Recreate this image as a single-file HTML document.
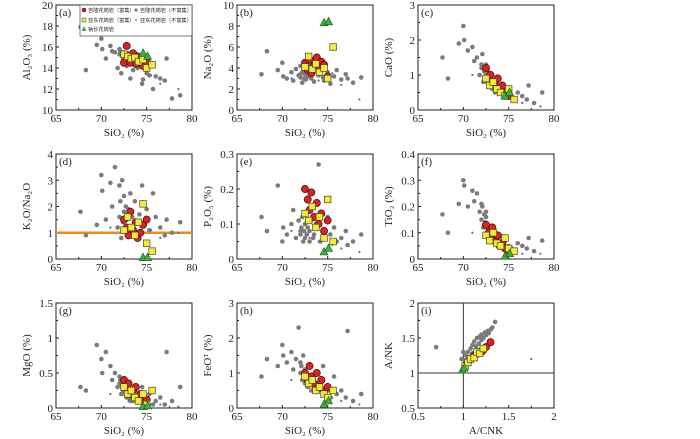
<!DOCTYPE html>
<html><head><meta charset="utf-8">
<style>
html,body{margin:0;padding:0;background:#fff;}
svg{display:block;font-family:"Liberation Serif","Noto Serif CJK SC",serif;}
</style></head>
<body>
<svg id="chart" width="700" height="439" viewBox="0 0 700 439" xmlns="http://www.w3.org/2000/svg"></svg>
<script>
// ---- data ----
const greySi=[67.7,68.3,69.5,70,70.1,70.5,71,71.2,71.5,71.8,72,72,72.1,72.2,72.3,72.4,72.5,72.5,72.6,72.7,72.8,73,73,73.2,73.4,73.5,73.7,74,74.2,74.5,74.6,75,75.3,75.7,76,76.5,77,77.2,77.8,78.7];
const redSi=[72.5,72.8,73,73.2,73.5,73.8,74,74.3,74.6,75];
const yelSi=[72.5,72.9,73.3,73.7,74.1,74.6,75,75.6];
const grnSi=[74.6,75.1];
const bluSi=[71,73,74,75.5,76.5,78.5];

const alGrey=[17.9,13.8,16.2,16.8,15.8,14.9,16.1,15.6,15.5,14,15.8,15.3,15.6,13.5,15.2,14.8,15.5,15.0,14.6,15.3,14.2,14.9,14.5,13,14.8,13.8,14.3,14.0,14.6,12.5,12.9,13.5,13.3,12,13.2,13,12.8,14.9,11.1,11.4];
const naGrey=[3.4,5.6,3.8,4.5,3.2,3.0,3.6,2.8,3.9,3.3,4.2,3.1,3.5,2.6,3.8,3.0,4.1,3.4,2.9,3.7,3.2,3.6,4.4,3.0,3.5,2.7,3.9,3.3,4.0,3.1,2.8,3.6,2.5,3.2,3.8,2.9,3.4,3.0,2.6,3.1];
const caGrey=[1.5,0.9,1.9,2.4,2.0,1.7,1.8,1.4,1.5,1.0,1.3,1.2,1.6,0.8,1.1,0.9,1.3,1.0,0.8,1.1,0.7,0.9,0.8,0.6,0.7,0.5,0.8,0.6,0.7,0.4,0.5,0.6,0.4,0.3,0.5,0.4,0.3,0.7,0.2,0.5];
const knGrey=[1.8,0.9,1.3,3.2,2.6,1.5,2.9,2.0,3.5,1.2,2.8,1.6,2.2,0.8,3.0,1.4,2.4,1.8,1.1,2.0,1.5,1.9,1.2,2.5,1.6,1.0,2.2,1.4,1.7,2.8,1.3,1.9,1.1,2.5,1.6,1.2,0.9,1.5,1.0,1.4];
const pGrey=[0.12,0.08,0.21,0.05,0.09,0.07,0.10,0.14,0.06,0.11,0.08,0.07,0.09,0.12,0.05,0.08,0.06,0.10,0.13,0.07,0.09,0.05,0.08,0.11,0.06,0.07,0.10,0.27,0.05,0.08,0.06,0.12,0.07,0.09,0.05,0.06,0.08,0.04,0.05,0.07];
const tiGrey=[0.17,0.10,0.21,0.30,0.28,0.20,0.26,0.22,0.25,0.18,0.21,0.15,0.20,0.12,0.17,0.14,0.18,0.16,0.12,0.13,0.10,0.11,0.09,0.08,0.10,0.06,0.08,0.07,0.06,0.05,0.07,0.05,0.04,0.03,0.06,0.05,0.04,0.08,0.03,0.07];
const mgGrey=[0.3,0.25,0.9,0.7,0.5,0.8,0.6,0.4,0.5,0.3,0.45,0.35,0.4,0.2,0.3,0.25,0.35,0.3,0.2,0.25,0.15,0.2,0.15,0.1,0.15,0.1,0.12,0.08,0.1,0.3,0.05,0.1,0.2,0.05,0.1,0.15,0.05,0.8,0.1,0.3];
const feGrey=[0.9,1.4,1.2,1.8,1.5,1.3,1.6,1.1,1.4,2.3,1.3,1.0,1.2,0.8,1.5,0.9,1.1,0.7,1.0,0.8,0.6,0.9,0.7,0.5,0.8,0.6,0.7,0.5,0.6,1.2,0.4,0.5,0.3,0.9,0.4,0.5,0.3,2.2,0.2,0.4];

const alRed=[14.5,16.1,15.2,14.5,15.4,14.4,15.1,14.8,14.2,14.6];
const naRed=[4.5,3.8,4.8,3.5,4.2,5.0,3.9,4.6,4.3,3.2];
const caRed=[1.2,0.9,1.0,0.8,0.7,0.9,0.6,0.7,0.5,0.4];
const knRed=[1.5,1.2,0.9,1.8,1.1,1.4,0.8,1.0,1.3,1.5];
const pRed=[0.20,0.17,0.14,0.19,0.12,0.16,0.10,0.13,0.08,0.11];
const tiRed=[0.13,0.10,0.08,0.12,0.07,0.09,0.05,0.06,0.04,0.03];
const mgRed=[0.4,0.3,0.35,0.2,0.25,0.3,0.15,0.2,0.1,0.12];
const feRed=[1.0,0.8,1.2,0.9,0.7,1.0,0.6,0.8,0.5,0.6];

const alYel=[15.3,15.1,14.9,15.0,14.6,14.8,14.0,14.3];
const naYel=[4.1,5.1,3.9,4.4,3.6,4.0,3.0,6.0];
const caYel=[0.9,0.7,0.8,0.6,0.5,0.4,0.6,0.3];
const knYel=[1.1,1.6,1.2,0.9,1.4,2.1,0.6,0.3];
const pYel=[0.13,0.11,0.15,0.09,0.12,0.06,0.17,0.05];
const tiYel=[0.09,0.07,0.10,0.06,0.05,0.08,0.04,0.03];
const mgYel=[0.3,0.2,0.25,0.15,0.1,0.2,0.05,0.25];
const feYel=[0.9,0.7,0.8,0.5,0.6,0.4,0.3,0.5];

const alGrn=[15.4,15.1], naGrn=[8.3,8.4], caGrn=[0.4,0.5], knGrn=[0.05,0.05], pGrn=[0.02,0.03], tiGrn=[0.01,0.02], mgGrn=[0.02,0.03], feGrn=[0.1,0.2];
const alBlu=[16.1,14.8,14.3,13.3,12.5,12.0], naBlu=[3.0,3.3,2.8,3.5,2.4,1.0], caBlu=[1.0,0.6,0.5,0.3,0.2,0.1], knBlu=[1.2,1.0,0.9,1.1,0.8,1.0], pBlu=[0.08,0.06,0.05,0.04,0.03,0.02], tiBlu=[0.1,0.06,0.05,0.03,0.02,0.02], mgBlu=[0.2,0.1,0.08,0.05,0.05,0.02], feBlu=[0.8,0.6,0.5,0.3,0.2,0.1];

const acnkGrey=[0.7,0.98,1.0,1.02,1.03,1.05,1.05,1.08,1.1,1.1,1.12,1.14,1.15,1.17,1.18,1.2,1.2,1.22,1.24,1.25,1.27,1.28,1.3,1.32,1.35];
const ankGrey=[1.37,1.2,1.3,1.18,1.25,1.3,1.22,1.35,1.4,1.28,1.45,1.38,1.5,1.42,1.52,1.47,1.55,1.5,1.58,1.54,1.6,1.57,1.62,1.65,1.73];
const acnkRed=[1.05,1.08,1.1,1.12,1.15,1.18,1.2,1.22,1.25,1.3];
const ankRed=[1.15,1.2,1.22,1.25,1.27,1.3,1.3,1.33,1.37,1.44];
const acnkYel=[1.02,1.05,1.08,1.12,1.15,1.18,1.22];
const ankYel=[1.1,1.15,1.2,1.22,1.3,1.28,1.35];
const acnkGrn=[0.99,1.01], ankGrn=[1.04,1.07];
const acnkBlu=[1.05,1.1,1.75], ankBlu=[1.2,1.3,1.2];

const siTicks=[65,70,75,80];
const abTicks=[0.5,1,1.5,2];

// ---- drawing ----
const svg=document.getElementById('chart');
const NS='http://www.w3.org/2000/svg';
function mk(tag,attrs,parent){const e=document.createElementNS(NS,tag);for(const k in attrs)e.setAttribute(k,attrs[k]);(parent||svg).appendChild(e);return e;}

const colX=[56,237,418], rowY=[5,154,303], PW=136, PH=105;
const panels=[
 {id:'a',c:0,r:0,yl:'Al₂O₃ (%)',y0:10,y1:20,yt:[10,12,14,16,18,20],g:alGrey,rd:alRed,ye:alYel,gn:alGrn,bl:alBlu},
 {id:'b',c:1,r:0,yl:'Na₂O (%)',y0:0,y1:10,yt:[0,2,4,6,8,10],g:naGrey,rd:naRed,ye:naYel,gn:naGrn,bl:naBlu},
 {id:'c',c:2,r:0,yl:'CaO (%)',y0:0,y1:3,yt:[0,1,2,3],g:caGrey,rd:caRed,ye:caYel,gn:caGrn,bl:caBlu},
 {id:'d',c:0,r:1,yl:'K₂O/Na₂O',y0:0,y1:4,yt:[0,1,2,3,4],g:knGrey,rd:knRed,ye:knYel,gn:knGrn,bl:knBlu,hline:1},
 {id:'e',c:1,r:1,yl:'P₂O₅ (%)',y0:0,y1:0.3,yt:[0,0.1,0.2,0.3],g:pGrey,rd:pRed,ye:pYel,gn:pGrn,bl:pBlu},
 {id:'f',c:2,r:1,yl:'TiO₂ (%)',y0:0,y1:0.4,yt:[0,0.1,0.2,0.3,0.4],g:tiGrey,rd:tiRed,ye:tiYel,gn:tiGrn,bl:tiBlu},
 {id:'g',c:0,r:2,yl:'MgO (%)',y0:0,y1:1.5,yt:[0,0.5,1,1.5],g:mgGrey,rd:mgRed,ye:mgYel,gn:mgGrn,bl:mgBlu},
 {id:'h',c:1,r:2,yl:'FeOᵀ (%)',y0:0,y1:3,yt:[0,1,2,3],g:feGrey,rd:feRed,ye:feYel,gn:feGrn,bl:feBlu},
 {id:'i',c:2,r:2,yl:'A/NK',y0:0.5,y1:2,yt:[0.5,1,1.5,2],x0:0.5,x1:2,xt:abTicks,xl:'A/CNK',
  gx:acnkGrey,g:ankGrey,rx:acnkRed,rd:ankRed,yx:acnkYel,ye:ankYel,nx:acnkGrn,gn:ankGrn,bx:acnkBlu,bl:ankBlu}
];

panels.forEach(p=>{
 const L=colX[p.c],T=rowY[p.r];
 const x0=p.x0??65,x1=p.x1??80,xt=p.xt||siTicks;
 const X=v=>L+(v-x0)/(x1-x0)*PW, Y=v=>T+PH-(v-p.y0)/(p.y1-p.y0)*PH;
 const g=mk('g',{});
 
 
 const fr=mk('rect',{x:L,y:T,width:PW,height:PH,fill:'none',stroke:'#222','stroke-width':1},g);
 
 
 // ticks
 xt.forEach((v,i)=>{
  mk('line',{x1:X(v),x2:X(v),y1:T+PH,y2:T+PH-3,stroke:'#222'},g);
  if(i<xt.length-1){const m=(v+xt[i+1])/2;mk('line',{x1:X(m),x2:X(m),y1:T+PH,y2:T+PH-2,stroke:'#222'},g);}
  const t=mk('text',{x:X(v),y:T+PH+12,'font-size':11,'text-anchor':'middle',fill:'#222'},g);t.textContent=v;
  
  
 });
 p.yt.forEach((v,i)=>{
  mk('line',{x1:L,x2:L+3,y1:Y(v),y2:Y(v),stroke:'#222'},g);
  if(i<p.yt.length-1){const m=(v+p.yt[i+1])/2;mk('line',{x1:L,x2:L+2,y1:Y(m),y2:Y(m),stroke:'#222'},g);}
  const t=mk('text',{x:L-3,y:Y(v)+4,'font-size':11,'text-anchor':'end',fill:'#222'},g);t.textContent=v;
  
  
 });
 const xl=mk('text',{x:L+PW/2,y:T+PH+26,'font-size':11,'text-anchor':'middle',fill:'#222'},g);xl.textContent=p.xl||'SiO₂ (%)';
 
 
 const yl=mk('text',{x:0,y:0,'font-size':11,'text-anchor':'middle',fill:'#222',transform:`translate(${L-26},${T+PH/2}) rotate(-90)`},g);yl.textContent=p.yl;
 
 
 const lb=mk('text',{x:L+3,y:T+11,'font-size':11,fill:'#222'},g);lb.textContent='('+p.id+')';
 
 
 if(p.hline!==undefined){const h=mk('line',{x1:L,x2:L+PW,y1:Y(p.hline),y2:Y(p.hline),stroke:'#f08a1c','stroke-width':2.5},g);
  
  }
 if(p.id==='i'){
  const a=mk('line',{x1:X(1),x2:X(1),y1:T,y2:T+PH,stroke:'#333'},g);
  
  
  const b=mk('line',{x1:L,x2:L+PW,y1:Y(1),y2:Y(1),stroke:'#333'},g);
  
  
 }
 const gxs=p.gx||greySi, rxs=p.rx||redSi, yxs=p.yx||yelSi, nxs=p.nx||grnSi, bxs=p.bx||bluSi;
 p.g.forEach((v,i)=>{const c=mk('circle',{cx:X(gxs[i]),cy:Y(v),r:2.3,fill:'#7b7b7b'},g);
  
  });
 p.bl.forEach((v,i)=>{const c=mk('circle',{cx:X(bxs[i]),cy:Y(v),r:1.1,fill:'#5566dd'},g);
  
  });
 p.rd.forEach((v,i)=>{const c=mk('circle',{cx:X(rxs[i]),cy:Y(v),r:3.6,fill:'#e02020',stroke:'#3a1010','stroke-width':0.7},g);
  
  });
 p.ye.forEach((v,i)=>{const c=mk('rect',{x:X(yxs[i])-3.3,y:Y(v)-3.3,width:6.6,height:6.6,fill:'#f4ee2a',stroke:'#444','stroke-width':0.7},g);
  
  });
 p.gn.forEach((v,i)=>{const cx=X(nxs[i]),cy=Y(v);const c=mk('polygon',{points:`${cx},${cy-4.5} ${cx-4},${cy+3} ${cx+4},${cy+3}`,fill:'#3cb043',stroke:'#1a5a1a','stroke-width':0.6},g);
  
  });
});

// legend in panel (a)
const lg=mk('g',{});


mk('rect',{x:80,y:5,width:112,height:31,fill:'#fff',stroke:'#444','stroke-width':0.7},lg);
const items=[
 {x:84,y:12,t:'吉隆花岗岩（富集）',k:'r'},{x:136,y:12,t:'吉隆花岗岩（不富集）',k:'g'},
 {x:84,y:22,t:'亚东花岗岩（富集）',k:'y'},{x:136,y:22,t:'亚东花岗岩（不富集）',k:'b'},
 {x:84,y:31,t:'钠长花岗岩',k:'n'}];
items.forEach(it=>{
 const e=mk('g',{},lg);
 
 
 if(it.k==='r')mk('circle',{cx:it.x,cy:it.y-2,r:2,fill:'#e02020',stroke:'#300','stroke-width':0.5},e);
 if(it.k==='g')mk('circle',{cx:it.x,cy:it.y-2,r:1.6,fill:'#7b7b7b'},e);
 if(it.k==='y')mk('rect',{x:it.x-2,y:it.y-4,width:4,height:4,fill:'#f4ee2a',stroke:'#444','stroke-width':0.5},e);
 if(it.k==='b')mk('circle',{cx:it.x,cy:it.y-2,r:0.9,fill:'#5566dd'},e);
 if(it.k==='n')mk('polygon',{points:`${it.x},${it.y-5} ${it.x-2.5},${it.y} ${it.x+2.5},${it.y}`,fill:'#3cb043'},e);
 const t=mk('text',{x:it.x+4,y:it.y,'font-size':5.2,fill:'#222','font-family':'"Noto Sans CJK SC",sans-serif'},e);t.textContent=it.t;
});
</script>
</body></html>
